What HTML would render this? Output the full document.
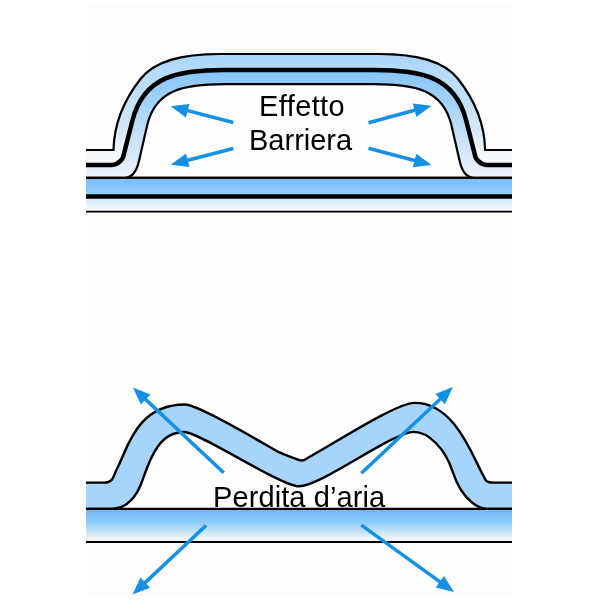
<!DOCTYPE html>
<html><head><meta charset="utf-8"><style>
html,body{margin:0;padding:0;background:#fff;width:600px;height:600px;overflow:hidden}
.t{position:absolute;will-change:transform;font-family:"Liberation Sans",sans-serif;font-size:29px;line-height:1;color:#000;white-space:nowrap}
</style></head><body>
<svg width="600" height="600" viewBox="0 0 600 600" style="position:absolute;left:0;top:0">
<defs>
<linearGradient id="gOut" x1="0" y1="54" x2="0" y2="165" gradientUnits="userSpaceOnUse"><stop offset="0" stop-color="#aad7fa"/><stop offset="0.7" stop-color="#d6e8f8"/><stop offset="0.86" stop-color="#f2f6fb"/><stop offset="1" stop-color="#f8f9fc"/></linearGradient>
<linearGradient id="gIn" x1="0" y1="70" x2="0" y2="178" gradientUnits="userSpaceOnUse"><stop offset="0" stop-color="#84c4fa"/><stop offset="0.88" stop-color="#e2edf9"/><stop offset="1" stop-color="#edf2fa"/></linearGradient>
<linearGradient id="gBase1" x1="0" y1="179" x2="0" y2="195" gradientUnits="userSpaceOnUse"><stop offset="0" stop-color="#76befa"/><stop offset="1" stop-color="#9acef8"/></linearGradient>
<linearGradient id="gBase2" x1="0" y1="198" x2="0" y2="211" gradientUnits="userSpaceOnUse"><stop offset="0" stop-color="#cae8fd"/><stop offset="1" stop-color="#fafafc"/></linearGradient>
<linearGradient id="gBase3" x1="0" y1="509" x2="0" y2="542" gradientUnits="userSpaceOnUse"><stop offset="0" stop-color="#6eb6f4"/><stop offset="0.35" stop-color="#86c8fa"/><stop offset="0.6" stop-color="#b4dcf6"/><stop offset="0.85" stop-color="#e6f1fa"/><stop offset="1" stop-color="#f8f9fc"/></linearGradient>
</defs>
<rect x="86" y="4" width="426" height="592" fill="#fdfdfd"/>
<rect x="86" y="177.8" width="426" height="18.4" fill="url(#gBase1)"/>
<rect x="86" y="196.2" width="426" height="15.4" fill="url(#gBase2)"/>
<path d="M86,177.8 H512" stroke="#000" stroke-width="2" fill="none"/>
<path d="M86,196.5 H512" stroke="#000" stroke-width="4.7" fill="none"/>
<path d="M86,211.6 H512" stroke="#000" stroke-width="1.6" fill="none"/>
<path d="M86.00,150.00 L113.50,150.00 C114.15,119.52 128.16,94.72 140.50,79.05 C154.48,61.28 180.53,54.00 219.89,54.00 L378.71,54.00 C418.07,54.00 444.12,61.28 458.10,79.05 C470.44,94.72 484.45,119.52 485.10,150.00 L512.00,150.00 L512.00,164.90 L486.52,164.90 C479.49,164.90 475.62,157.61 475.49,157.11 L466.16,120.44 C454.61,75.00 418.63,69.93 374.06,69.93 L224.54,69.93 C179.97,69.93 143.99,75.00 132.44,120.44 L123.11,157.11 C122.98,157.61 119.11,164.90 112.08,164.90 L86.00,164.90 Z" fill="url(#gOut)"/>
<path d="M86.00,164.90 L112.08,164.90 C119.11,164.90 122.98,157.61 123.11,157.11 L132.44,120.44 C143.99,75.00 179.97,69.93 224.54,69.93 L374.06,69.93 C418.63,69.93 454.61,75.00 466.16,120.44 L475.49,157.11 C475.62,157.61 479.49,164.90 486.52,164.90 L512.00,164.90 L512.00,177.80 L476.34,177.80 C475.42,177.80 464.03,180.22 459.76,161.61 L451.42,125.24 C443.01,88.60 412.96,84.14 373.94,84.14 L224.66,84.14 C185.64,84.14 155.59,88.60 147.18,125.24 L138.84,161.61 C134.57,180.22 123.18,177.80 122.26,177.80 L86.00,177.80 Z" fill="url(#gIn)"/>
<path d="M86.00,150.00 L113.50,150.00 C114.15,119.52 128.16,94.72 140.50,79.05 C154.48,61.28 180.53,54.00 219.89,54.00 L378.71,54.00 C418.07,54.00 444.12,61.28 458.10,79.05 C470.44,94.72 484.45,119.52 485.10,150.00 L512.00,150.00" stroke="#000" stroke-width="2.2" fill="none"/>
<path d="M86.00,164.90 L112.08,164.90 C119.11,164.90 122.98,157.61 123.11,157.11 L132.44,120.44 C143.99,75.00 179.97,69.93 224.54,69.93 L374.06,69.93 C418.63,69.93 454.61,75.00 466.16,120.44 L475.49,157.11 C475.62,157.61 479.49,164.90 486.52,164.90 L512.00,164.90" stroke="#000" stroke-width="4.5" fill="none"/>
<path d="M86.00,177.80 L122.26,177.80 C123.18,177.80 134.57,180.22 138.84,161.61 L147.18,125.24 C155.59,88.60 185.64,84.14 224.66,84.14 L373.94,84.14 C412.96,84.14 443.01,88.60 451.42,125.24 L459.76,161.61 C464.03,180.22 475.42,177.80 476.34,177.80 L512.00,177.80" stroke="#000" stroke-width="2.2" fill="none"/>
<path d="M86,177.8 H512" stroke="#000" stroke-width="2" fill="none"/>
<path d="M233.30,122.50 L185.71,110.18" stroke="#1490e4" stroke-width="3.50" fill="none"/><path d="M170.70,106.30 L189.40,103.91 L185.89,117.46 Z" fill="#1490e4"/>
<path d="M233.30,148.50 L185.80,160.81" stroke="#1490e4" stroke-width="3.50" fill="none"/><path d="M170.80,164.70 L185.98,153.53 L189.50,167.09 Z" fill="#1490e4"/>
<path d="M368.50,122.70 L416.53,109.78" stroke="#1490e4" stroke-width="3.50" fill="none"/><path d="M431.50,105.75 L416.42,117.06 L412.78,103.54 Z" fill="#1490e4"/>
<path d="M368.50,148.20 L416.52,161.01" stroke="#1490e4" stroke-width="3.50" fill="none"/><path d="M431.50,165.00 L412.79,167.25 L416.39,153.73 Z" fill="#1490e4"/>
<rect x="86" y="508.9" width="426" height="32.8" fill="url(#gBase3)"/>
<path d="M86.00,482.60 L90.00,482.60 C93.61,482.60 102.44,482.60 104.48,482.60 C114.09,482.60 113.50,474.90 117.45,467.76 C127.04,450.44 135.69,404.57 185.01,404.57 C199.18,404.57 267.73,446.25 277.63,451.60 C279.02,452.35 299.37,460.50 301.00,460.50 C305.00,460.50 305.33,459.15 310.57,456.24 C337.99,441.02 396.62,402.85 414.70,402.85 C455.02,402.85 472.44,456.40 482.62,474.24 C485.85,479.91 485.18,482.60 492.61,482.60 C497.13,482.60 502.32,482.60 508.00,482.60 L512.00,482.60 L512.00,508.90 L505.00,508.90 C498.66,508.90 490.34,508.90 486.66,508.90 C483.66,508.90 463.57,505.89 452.36,470.95 C445.37,449.16 428.83,431.85 413.71,431.85 C392.89,431.85 320.98,486.30 298.98,486.30 C280.98,486.30 199.34,432.07 184.34,432.07 C160.26,432.07 150.92,455.96 143.50,477.31 C141.93,481.82 134.51,508.90 110.62,508.90 C107.41,508.90 106.38,508.90 100.00,508.90 L86.00,508.90 Z" fill="#a6d4fa"/>
<path d="M86.00,482.60 L90.00,482.60 C93.61,482.60 102.44,482.60 104.48,482.60 C114.09,482.60 113.50,474.90 117.45,467.76 C127.04,450.44 135.69,404.57 185.01,404.57 C199.18,404.57 267.73,446.25 277.63,451.60 C279.02,452.35 299.37,460.50 301.00,460.50 C305.00,460.50 305.33,459.15 310.57,456.24 C337.99,441.02 396.62,402.85 414.70,402.85 C455.02,402.85 472.44,456.40 482.62,474.24 C485.85,479.91 485.18,482.60 492.61,482.60 C497.13,482.60 502.32,482.60 508.00,482.60 L512.00,482.60" stroke="#000" stroke-width="2.4" fill="none"/>
<path d="M86.00,508.90 L100.00,508.90 C106.38,508.90 107.41,508.90 110.62,508.90 C134.51,508.90 141.93,481.82 143.50,477.31 C150.92,455.96 160.26,432.07 184.34,432.07 C199.34,432.07 280.98,486.30 298.98,486.30 C320.98,486.30 392.89,431.85 413.71,431.85 C428.83,431.85 445.37,449.16 452.36,470.95 C463.57,505.89 483.66,508.90 486.66,508.90 C490.34,508.90 498.66,508.90 505.00,508.90 L512.00,508.90" stroke="#000" stroke-width="2.4" fill="none"/>
<path d="M86,508.9 H512" stroke="#000" stroke-width="2.2" fill="none"/>
<path d="M86,542.0 H512" stroke="#000" stroke-width="2.2" fill="none"/>
</svg>
<div class="t" style="left:258.8px;top:92px;letter-spacing:0.4px">Effetto</div>
<div class="t" style="left:249.3px;top:125.7px">Barriera</div>
<div class="t" style="left:213.3px;top:483.3px;letter-spacing:0.1px">Perdita d’aria</div>
<svg width="600" height="600" viewBox="0 0 600 600" style="position:absolute;left:0;top:0"><path d="M223.70,472.80 L144.20,398.11" stroke="#1490e4" stroke-width="3.50" fill="none"/><path d="M132.90,387.50 L150.45,394.38 L140.86,404.58 Z" fill="#1490e4"/><path d="M361.30,473.30 L441.61,397.72" stroke="#1490e4" stroke-width="3.50" fill="none"/><path d="M452.90,387.10 L444.95,404.19 L435.36,394.00 Z" fill="#1490e4"/><path d="M206.00,525.50 L143.80,583.89" stroke="#1490e4" stroke-width="3.50" fill="none"/><path d="M132.50,594.50 L140.47,577.42 L150.05,587.63 Z" fill="#1490e4"/><path d="M361.40,525.10 L441.44,582.92" stroke="#1490e4" stroke-width="3.50" fill="none"/><path d="M454.00,592.00 L435.72,587.43 L443.91,576.08 Z" fill="#1490e4"/></svg>
</body></html>
